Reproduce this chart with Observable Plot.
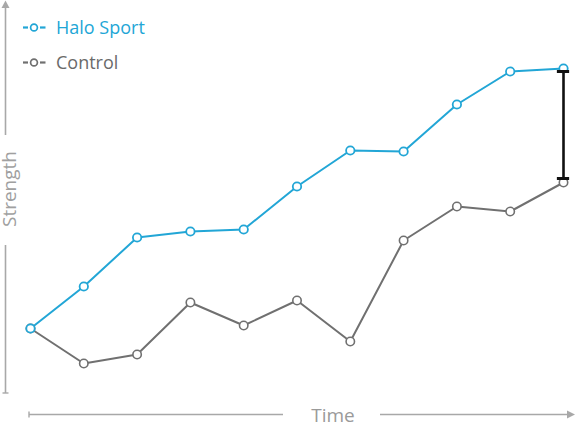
<!DOCTYPE html>
<html>
<head>
<meta charset="utf-8">
<script src="https://cdn.jsdelivr.net/npm/d3@7"></script>
<script src="https://cdn.jsdelivr.net/npm/@observablehq/plot@0.6"></script>
<style>
  html, body { margin: 0; padding: 0; background: #fff; }
  #chart svg { display: block; font-family: "Open Sans", sans-serif; }
</style>
</head>
<body>
<div id="chart"></div>
<script>
// ---- data ----
const timeIndex = [0, 1, 2, 3, 4, 5, 6, 7, 8, 9, 10];
const haloSport = [18, 28.5, 40.75, 42.25, 42.75, 53.5, 62.5, 62.25, 74, 82.25, 83];
const control   = [18, 9.25, 11.5, 24.5, 18.75, 25, 14.75, 40, 48.5, 47.25, 54.5];
const seriesNames = ["Halo Sport", "Control"];
const seriesColors = ["#22a6d6", "#707070"];
const xLabel = "Time";
const yLabel = "Strength";

const rows = [];
timeIndex.forEach((t, i) => rows.push({t, v: haloSport[i], s: seriesNames[0]}));
timeIndex.forEach((t, i) => rows.push({t, v: control[i], s: seriesNames[1]}));
const last = timeIndex.length - 1;
const gap = [{t: timeIndex[last], hi: haloSport[last], lo: control[last]}];

const ctrl = rows.filter(d => d.s === seriesNames[1]);
const halo = rows.filter(d => d.s === seriesNames[0]);

const W = 576, H = 424;
const plot = Plot.plot({
  width: W, height: H,
  marginLeft: 30, marginRight: 13, marginTop: 0, marginBottom: 24,
  x: {domain: [0, 10], axis: null},
  y: {domain: [0, 100], axis: null},
  marks: [
    Plot.line(ctrl, {x: "t", y: "v", stroke: seriesColors[1], strokeWidth: 2}),
    Plot.line(halo, {x: "t", y: "v", stroke: seriesColors[0], strokeWidth: 2}),
    Plot.dot(ctrl, {x: "t", y: "v", r: 4.2, fill: "white", stroke: seriesColors[1], strokeWidth: 1.6}),
    Plot.dot(halo, {x: "t", y: "v", r: 4.2, fill: "white", stroke: seriesColors[0], strokeWidth: 1.8}),
    Plot.ruleX(gap, {x: "t", y1: "hi", y2: "lo", stroke: "#111", strokeWidth: 2.6, insetTop: 3, insetBottom: 4}),
    Plot.ruleY(gap, {y: "hi", x1: d => d.t - 0.115, x2: d => d.t + 0.115, dy: 3, stroke: "#111", strokeWidth: 3}),
    Plot.ruleY(gap, {y: "lo", x1: d => d.t - 0.115, x2: d => d.t + 0.115, dy: -4, stroke: "#111", strokeWidth: 3})
  ]
});

// ---- decorative axes and legend ----
const svg = d3.select(plot);
const axisColor = "#a8a8a8";
const g = svg.append("g");
// y axis
g.append("line").attr("x1", 5.5).attr("x2", 5.5).attr("y1", 6).attr("y2", 135)
  .attr("stroke", axisColor).attr("stroke-width", 1.6);
g.append("path").attr("d", "M5.5,0.5 L9.5,8 L1.5,8 Z").attr("fill", axisColor);
g.append("line").attr("x1", 5.5).attr("x2", 5.5).attr("y1", 245).attr("y2", 393)
  .attr("stroke", axisColor).attr("stroke-width", 1.6);
g.append("line").attr("x1", 2.5).attr("x2", 8.5).attr("y1", 393).attr("y2", 393)
  .attr("stroke", axisColor).attr("stroke-width", 1.4);
g.append("text").attr("transform", "translate(16,189) rotate(-90)")
  .attr("text-anchor", "middle").attr("fill", "#a0a0a0")
  .attr("font-size", 19).text(yLabel);
// x axis
g.append("line").attr("x1", 29).attr("x2", 283).attr("y1", 414.5).attr("y2", 414.5)
  .attr("stroke", axisColor).attr("stroke-width", 1.6);
g.append("line").attr("x1", 29).attr("x2", 29).attr("y1", 411.5).attr("y2", 417.5)
  .attr("stroke", axisColor).attr("stroke-width", 1.4);
g.append("line").attr("x1", 380).attr("x2", 567).attr("y1", 414.5).attr("y2", 414.5)
  .attr("stroke", axisColor).attr("stroke-width", 1.6);
g.append("path").attr("d", "M575,414.5 L567,410.5 L567,418.5 Z").attr("fill", axisColor);
g.append("text").attr("x", 333).attr("y", 421.5)
  .attr("text-anchor", "middle").attr("fill", "#9a9a9a")
  .attr("font-size", 19).text(xLabel);

// legend
const legY = [27.5, 62.5];
seriesNames.forEach((name, i) => {
  const lg = svg.append("g").attr("transform", `translate(0,${legY[i]})`);
  lg.append("line").attr("x1", 23).attr("x2", 28).attr("y1", 0).attr("y2", 0)
    .attr("stroke", seriesColors[i]).attr("stroke-width", 2.2);
  lg.append("line").attr("x1", 40).attr("x2", 45.5).attr("y1", 0).attr("y2", 0)
    .attr("stroke", seriesColors[i]).attr("stroke-width", 2.2);
  lg.append("circle").attr("cx", 34).attr("cy", 0).attr("r", 3.4)
    .attr("fill", "white").attr("stroke", seriesColors[i]).attr("stroke-width", 1.7);
  lg.append("text").attr("x", 56).attr("y", 6).attr("font-size", 18)
    .attr("text-anchor", "start")
    .attr("fill", i === 0 ? seriesColors[0] : "#6a6a6a")
    .attr("font-weight", i === 0 ? 500 : 400)
    .text(name);
});

document.getElementById("chart").appendChild(plot);
</script>
</body>
</html>
